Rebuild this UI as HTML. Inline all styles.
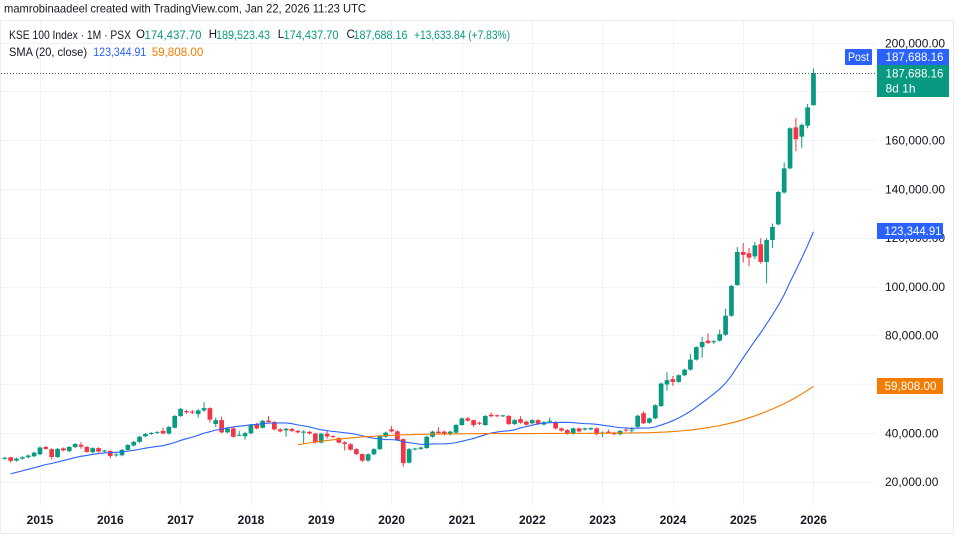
<!DOCTYPE html>
<html><head><meta charset="utf-8">
<style>
html,body{margin:0;padding:0;background:#fff;}
body{width:958px;height:546px;overflow:hidden;}
svg{display:block;font-family:"Liberation Sans",Arial,sans-serif;}
</style></head>
<body>
<svg width="958" height="546" viewBox="0 0 958 546" xmlns="http://www.w3.org/2000/svg">
<rect width="958" height="546" fill="#ffffff"/>
<rect x="0.5" y="20.5" width="953" height="513" fill="none" stroke="#e9ecf2" stroke-width="1"/>
<g stroke="#f0f3fa" stroke-width="1" shape-rendering="crispEdges">
<line x1="1" y1="43.5" x2="876" y2="43.5"/>
<line x1="1" y1="91.5" x2="876" y2="91.5"/>
<line x1="1" y1="140.5" x2="876" y2="140.5"/>
<line x1="1" y1="189.5" x2="876" y2="189.5"/>
<line x1="1" y1="238.5" x2="876" y2="238.5"/>
<line x1="1" y1="287.5" x2="876" y2="287.5"/>
<line x1="1" y1="335.5" x2="876" y2="335.5"/>
<line x1="1" y1="384.5" x2="876" y2="384.5"/>
<line x1="1" y1="433.5" x2="876" y2="433.5"/>
<line x1="1" y1="482.5" x2="876" y2="482.5"/>
<line x1="40.5" y1="21" x2="40.5" y2="505"/>
<line x1="110.5" y1="21" x2="110.5" y2="505"/>
<line x1="180.5" y1="21" x2="180.5" y2="505"/>
<line x1="251.5" y1="21" x2="251.5" y2="505"/>
<line x1="321.5" y1="21" x2="321.5" y2="505"/>
<line x1="391.5" y1="21" x2="391.5" y2="505"/>
<line x1="462.5" y1="21" x2="462.5" y2="505"/>
<line x1="532.5" y1="21" x2="532.5" y2="505"/>
<line x1="602.5" y1="21" x2="602.5" y2="505"/>
<line x1="673.5" y1="21" x2="673.5" y2="505"/>
<line x1="743.5" y1="21" x2="743.5" y2="505"/>
<line x1="813.5" y1="21" x2="813.5" y2="505"/>
</g>

<g transform="translate(4.8,530.9) scale(5.86,-2.44)">
<!-- green wicks -->
<path fill="none" stroke="#089981" stroke-width="1" vector-effect="non-scaling-stroke" d="M0 29.2V30.4M2 28.4V30M3 29.2V30.6M4 29.8V31.3M5 30.2V32.5M6 31V34.6M9 29.9V34M11 32.3V34.8M12 34V36M15 31.9V34.3M17 32.2V33.2M19 30.4V31.9M20 30.6V33.6M21 32.8V35.6M22 34.6V36.9M23 36.1V39M24 38.4V40.1M25 39.3V40.5M26 39.7V40.9M28 39.5V43M29 41.9V47.5M30 46.7V50.4M33 46.4V49.9M34 48.8V52.7M36 42.6V46.5M38 40V42.4M40 38.8V41M41 37.4V40.6M42 39.6V43.8M44 41.9V45.5M48 38.6V42.3M51 35.9V41.3M54 35.8V40.2M62 28.4V31.8M63 31V33.9M64 33.1V39.3M65 38.2V40.7M69 27.6V34M70 33V34.1M71 33.2V34.6M72 33.6V39M73 38.2V41.1M76 39.1V41.1M77 39.9V43.8M78 43V46.5M82 43V47.5M85 46.7V47.6M87 43.4V45.8M90 43.7V45.8M92 43.2V45M93 44.3V46.5M97 39.4V42.4M99 41.1V42.4M100 41.2V42.5M102 38.5V40.8M105 39.2V41.4M107 40.2V42.5M108 42.3V47.6M110 43.9V46.5M111 45.7V51.9M112 50.8V60.8M113 57.5V65M115 60.7V64.2M116 63.4V66.5M117 65.7V72.5M118 69.8V75.7M119 71V79.5M121 76.6V78.2M122 77.6V82.5M123 80V91M124 87.8V100.8M125 100.4V116.3M128 111.5V118.5M130 101.5V120M131 116V126M132 125.2V139.3M133 138.3V151M134 148.2V165.4M136 157V167M137 165V175M138 174.437V189.523"/>
<!-- red wicks -->
<path fill="none" stroke="#f23645" stroke-width="1" vector-effect="non-scaling-stroke" d="M1 28V30.4M7 33.2V34.8M8 29.3V33.8M10 32.6V34.2M13 33.6V36.4M14 32V34.8M16 32.1V34.3M18 29.8V33M27 39.6V42.3M31 47.9V49.6M32 47.8V49.6M35 44.4V50.6M37 40V46.8M39 38.2V42.4M43 41.6V44.3M45 44.2V47M46 41.2V45M47 40.4V42.1M49 40.6V42.2M50 40V41.4M52 39.5V41M53 35.8V40.2M55 37.8V41M56 38V39.2M57 35.8V38.4M58 33V36.8M59 32.9V35.9M60 31.1V33.9M61 28.2V31.7M66 40.4V43M67 36.9V41.2M68 26.4V37.9M74 39.7V42.5M75 39.1V41.1M79 44.8V46.7M80 42.6V45.6M81 43.4V44.8M83 46.6V48.5M84 46.6V47.7M86 43.4V47.5M88 43.9V47M89 43.1V45.2M91 43.5V45.8M94 41.6V45M95 40.7V42.4M96 39.4V41.7M98 40.4V42.4M101 39.2V42.4M103 40V41.5M104 39.2V40.7M106 40.6V42.3M109 43.8V49M114 59.5V63.5M120 76.6V81M126 110V118M127 108.5V116M129 109.5V120M135 155.6V169.3"/>
<!-- green bodies -->
<path fill="#089981" d="M-.4 29.5h.8V30h-.8zM1.6 28.8h.8V29.6h-.8zM2.6 29.6h.8V30.2h-.8zM3.6 30.2h.8V30.9h-.8zM4.6 30.6h.8V32.1h-.8zM5.6 31.4h.8V34.2h-.8zM8.6 30.3h.8V33.6h-.8zM10.6 32.7h.8V34.4h-.8zM11.6 34.4h.8V35.6h-.8zM14.6 32.3h.8V33.9h-.8zM16.6 32.55h.8V32.96h-.8zM18.6 30.95h.8V31.36h-.8zM19.6 31h.8V33.2h-.8zM20.6 33.2h.8V35.2h-.8zM21.6 35h.8V36.5h-.8zM22.6 36.5h.8V38.6h-.8zM23.6 38.8h.8V39.7h-.8zM24.6 39.7h.8V40.1h-.8zM25.6 40.1h.8V40.5h-.8zM27.6 39.9h.8V42.6h-.8zM28.6 42.3h.8V47.1h-.8zM29.6 47.1h.8V50h-.8zM32.6 47.9h.8V49.4h-.8zM33.6 49.4h.8V50.3h-.8zM35.6 43.8h.8V45.4h-.8zM37.6 40.4h.8V42h-.8zM39.6 39h.8V39.4h-.8zM40.6 38.8h.8V40h-.8zM41.6 40h.8V43.4h-.8zM43.6 42.3h.8V45.1h-.8zM47.6 41.2h.8V41.8h-.8zM50.6 40.3h.8V40.7h-.8zM53.6 36.2h.8V39.8h-.8zM61.6 28.8h.8V31.4h-.8zM62.6 31.4h.8V33.5h-.8zM63.6 33.5h.8V38.9h-.8zM64.6 38.6h.8V40.3h-.8zM68.6 28h.8V33.5h-.8zM69.6 33.35h.8V33.76h-.8zM70.6 33.6h.8V34.2h-.8zM71.6 34h.8V38.6h-.8zM72.6 38.6h.8V40.7h-.8zM75.6 39.5h.8V40.7h-.8zM76.6 40.3h.8V43.4h-.8zM77.6 43.4h.8V46.1h-.8zM81.6 43.4h.8V47.1h-.8zM84.6 46.95h.8V47.36h-.8zM86.6 43.8h.8V45.4h-.8zM89.6 44.1h.8V45.4h-.8zM91.6 43.6h.8V44.6h-.8zM92.6 44.75h.8V45.16h-.8zM96.6 39.8h.8V42h-.8zM98.6 41.5h.8V42h-.8zM99.6 41.6h.8V42.1h-.8zM101.6 39.9h.8V40.31h-.8zM104.6 39.6h.8V41h-.8zM106.6 41.1h.8V41.51h-.8zM107.6 42.7h.8V47.2h-.8zM109.6 44.3h.8V46.1h-.8zM110.6 46.1h.8V51.5h-.8zM111.6 51.2h.8V60.4h-.8zM112.6 60h.8V61.8h-.8zM114.6 61.1h.8V63.8h-.8zM115.6 63.8h.8V66.1h-.8zM116.6 66.1h.8V70.2h-.8zM117.6 70.2h.8V75.3h-.8zM118.6 75.3h.8V77.4h-.8zM120.6 77.3h.8V77.71h-.8zM121.6 78h.8V80.6h-.8zM122.6 80.4h.8V88.2h-.8zM123.6 88.2h.8V100.4h-.8zM124.6 100.8h.8V114.3h-.8zM127.6 112.5h.8V117h-.8zM129.6 110.2h.8V119.2h-.8zM130.6 119.2h.8V124.6h-.8zM131.6 125.6h.8V138.9h-.8zM132.6 138.7h.8V148.6h-.8zM133.6 148.6h.8V165h-.8zM135.6 161.6h.8V166.4h-.8zM136.6 166.1h.8V173.6h-.8zM137.6 174.437h.8V187.688h-.8z"/>
<!-- red bodies -->
<path fill="#f23645" d="M.6 28.7h.8V30.2h-.8zM6.6 33.6h.8V34.4h-.8zM7.6 30.3h.8V33.5h-.8zM9.6 33h.8V33.8h-.8zM12.6 34.5h.8V35.3h-.8zM13.6 32.4h.8V34.4h-.8zM15.6 32.5h.8V33.9h-.8zM17.6 30.7h.8V32.8h-.8zM26.6 39.9h.8V41h-.8zM30.6 48.6h.8V49.1h-.8zM31.6 48.45h.8V48.86h-.8zM34.6 45.6h.8V50.3h-.8zM36.6 40.4h.8V45.4h-.8zM38.6 38.6h.8V42h-.8zM42.6 42h.8V43.7h-.8zM44.6 44.6h.8V45.2h-.8zM45.6 41.6h.8V44.6h-.8zM46.6 40.8h.8V41.6h-.8zM48.6 41h.8V41.8h-.8zM49.6 40.4h.8V41h-.8zM51.6 39.9h.8V40.6h-.8zM52.6 36.2h.8V39.9h-.8zM54.6 38.7h.8V39.8h-.8zM55.6 38.45h.8V38.86h-.8zM56.6 36.2h.8V38h-.8zM57.6 35.6h.8V36.3h-.8zM58.6 33.3h.8V35.5h-.8zM59.6 31.5h.8V33.5h-.8zM60.6 28.8h.8V31.5h-.8zM65.6 40.8h.8V41.6h-.8zM66.6 37.3h.8V40.8h-.8zM67.6 27.8h.8V37.6h-.8zM73.6 40.1h.8V40.7h-.8zM74.6 39.5h.8V40.7h-.8zM78.6 45.2h.8V46.1h-.8zM79.6 43.4h.8V45.4h-.8zM80.6 43.9h.8V44.31h-.8zM82.6 47h.8V47.6h-.8zM83.6 47h.8V47.41h-.8zM85.6 43.8h.8V47.1h-.8zM87.6 44.3h.8V45.8h-.8zM88.6 43.5h.8V44.8h-.8zM90.6 43.9h.8V45.4h-.8zM93.6 42h.8V44.6h-.8zM94.6 41.1h.8V42h-.8zM95.6 39.8h.8V41.3h-.8zM97.6 40.8h.8V42h-.8zM100.6 39.6h.8V42h-.8zM102.6 40.2h.8V40.61h-.8zM103.6 39.6h.8V40.3h-.8zM105.6 41.1h.8V41.51h-.8zM108.6 44.1h.8V48.2h-.8zM113.6 61.1h.8V62.2h-.8zM119.6 77h.8V78h-.8zM125.6 113.1h.8V114.3h-.8zM126.6 112h.8V113.8h-.8zM128.6 110.2h.8V117.5h-.8zM134.6 160.5h.8V165.4h-.8z"/>
<!-- SMA 20 -->
<polyline fill="none" stroke="#2962ff" stroke-width="1.1" vector-effect="non-scaling-stroke" points="1,23.38 2,24 3,24.6 4,25.245 5,25.855 6,26.515 7,27.205 8,27.62 9,28.23 10,28.84 11,29.435 12,30.06 13,30.58 14,30.92 15,31.375 16,31.7 17,31.965 18,32.075 19,32.215 20,32.375 21,32.7 22,33.045 23,33.465 24,33.905 25,34.305 26,34.62 27,34.935 28,35.55 29,36.225 30,37.075 31,37.785 32,38.43 33,39.175 34,40.07 35,40.655 36,41.3 37,41.68 38,42.245 39,42.61 40,42.92 41,43.16 42,43.505 43,43.675 44,43.945 45,44.17 46,44.225 47,44.27 48,44.23 49,43.925 50,43.445 51,43.05 52,42.62 53,41.96 54,41.435 55,41.09 56,40.745 57,40.535 58,40.215 59,39.95 60,39.555 61,38.995 62,38.395 63,37.97 64,37.66 65,37.445 66,37.405 67,37.23 68,36.53 69,36.155 70,35.82 71,35.495 72,35.43 73,35.655 74,35.67 75,35.71 76,35.82 77,36.18 78,36.705 79,37.3 80,37.895 81,38.655 82,39.44 83,40.115 84,40.52 85,40.865 86,41.015 87,41.42 88,42.245 89,42.745 90,43.33 91,43.815 92,44.115 93,44.33 94,44.425 95,44.505 96,44.46 97,44.39 98,44.125 99,43.965 100,43.9 101,43.68 102,43.335 103,43 104,42.63 105,42.32 106,42.19 107,41.99 108,42.135 109,42.165 110,42.2 111,42.58 112,43.37 113,44.21 114,45.165 115,46.3 116,47.615 117,49.025 118,50.75 119,52.52 120,54.265 121,56.165 122,58.185 123,60.58 124,63.62 125,67.285 126,70.88 127,74.41 128,77.9 129,81.205 130,84.86 131,88.515 132,92.44 133,96.78 134,101.975 135,106.81 136,111.825 137,116.995 138,122.61"/>
<!-- smoothing -->
<polyline fill="none" stroke="#f57c00" stroke-width="1.1" vector-effect="non-scaling-stroke" points="50,35.31 51,35.7 52,36.07 53,36.42 54,36.75 55,37.05 56,37.33 57,37.6 58,37.85 59,38.09 60,38.3 61,38.49 62,38.66 63,38.81 64,38.94 65,39.06 66,39.18 67,39.28 68,39.37 69,39.45 70,39.52 71,39.58 72,39.62 73,39.67 74,39.7 75,39.73 76,39.75 77,39.78 78,39.8 79,39.82 80,39.84 81,39.86 82,39.88 83,39.9 84,39.91 85,39.91 86,39.9 87,39.9 88,39.9 89,39.9 90,39.91 91,39.92 92,39.94 93,39.95 94,39.96 95,39.97 96,39.97 97,39.97 98,39.97 99,39.97 100,39.98 101,39.99 102,40.01 103,40.03 104,40.05 105,40.08 106,40.11 107,40.13 108,40.17 109,40.22 110,40.27 111,40.34 112,40.44 113,40.57 114,40.72 115,40.89 116,41.1 117,41.33 118,41.62 119,41.94 120,42.31 121,42.73 122,43.18 123,43.68 124,44.24 125,44.87 126,45.57 127,46.34 128,47.16 129,48.04 130,48.98 131,49.98 132,51.04 133,52.17 134,53.4 135,54.72 136,56.13 137,57.64 138,59.25"/>
</g>

<line x1="1" y1="73.5" x2="877" y2="73.5" stroke="#3f5f59" stroke-width="1" stroke-dasharray="1 2"/>

<!-- header -->
<text x="4" y="8.5" font-size="12" fill="#131722" dominant-baseline="central" textLength="362" lengthAdjust="spacingAndGlyphs">mamrobinaadeel created with TradingView.com, Jan 22, 2026 11:23 UTC</text>

<g font-size="12" dominant-baseline="central">
<text x="9" y="35" fill="#131722" textLength="122" lengthAdjust="spacingAndGlyphs">KSE 100 Index · 1M · PSX</text>
<text x="136" y="35" fill="#131722" font-size="11.5">O</text>
<text x="144.5" y="35" fill="#089981" textLength="57" lengthAdjust="spacingAndGlyphs">174,437.70</text>
<text x="208.7" y="35" fill="#131722" font-size="11.5">H</text>
<text x="216" y="35" fill="#089981" textLength="54" lengthAdjust="spacingAndGlyphs">189,523.43</text>
<text x="277.7" y="35" fill="#131722" font-size="11.5">L</text>
<text x="283.5" y="35" fill="#089981" textLength="55" lengthAdjust="spacingAndGlyphs">174,437.70</text>
<text x="346.5" y="35" fill="#131722" font-size="11.5">C</text>
<text x="353.5" y="35" fill="#089981" textLength="54" lengthAdjust="spacingAndGlyphs">187,688.16</text>
<text x="414" y="35" fill="#089981" textLength="96" lengthAdjust="spacingAndGlyphs">+13,633.84 (+7.83%)</text>
<text x="9" y="52" fill="#131722" textLength="78" lengthAdjust="spacingAndGlyphs">SMA (20, close)</text>
<text x="93.3" y="52" fill="#2962ff" textLength="53" lengthAdjust="spacingAndGlyphs">123,344.91</text>
<text x="151.7" y="52" fill="#f57c00" textLength="51.6" lengthAdjust="spacingAndGlyphs">59,808.00</text>
</g>

<g font-size="12" fill="#131722" dominant-baseline="central">
<text x="885" y="43.3">200,000.00</text>
<text x="885" y="140.5">160,000.00</text>
<text x="885" y="189.3">140,000.00</text>
<text x="885" y="238.1">120,000.00</text>
<text x="885" y="286.9">100,000.00</text>
<text x="885" y="335.7">80,000.00</text>
<text x="885" y="433.3">40,000.00</text>
<text x="885" y="482.1">20,000.00</text>
</g>

<g font-size="12" font-weight="bold" fill="#131722" text-anchor="middle" dominant-baseline="central">
<text x="40" y="520">2015</text>
<text x="110.3" y="520">2016</text>
<text x="180.6" y="520">2017</text>
<text x="251" y="520">2018</text>
<text x="321.3" y="520">2019</text>
<text x="391.6" y="520">2020</text>
<text x="462" y="520">2021</text>
<text x="532.3" y="520">2022</text>
<text x="602.6" y="520">2023</text>
<text x="673" y="520">2024</text>
<text x="743.3" y="520">2025</text>
<text x="813.6" y="520">2026</text>
</g>

<rect x="845" y="49" width="27" height="16" fill="#2962ff" rx="1"/>
<text x="858.5" y="57" font-size="12" fill="#ffffff" text-anchor="middle" dominant-baseline="central" textLength="21" lengthAdjust="spacingAndGlyphs">Post</text>
<rect x="877" y="49" width="72" height="16" fill="#2962ff"/>
<text x="885.5" y="57" font-size="12" fill="#ffffff" dominant-baseline="central" textLength="58" lengthAdjust="spacingAndGlyphs">187,688.16</text>
<rect x="877" y="65" width="72" height="32" fill="#089981"/>
<text x="885.5" y="73.5" font-size="12" fill="#ffffff" dominant-baseline="central" textLength="58" lengthAdjust="spacingAndGlyphs">187,688.16</text>
<text x="885.5" y="88.5" font-size="12" fill="#ffffff" dominant-baseline="central">8d 1h</text>

<rect x="877" y="223" width="66" height="16" fill="#2962ff"/>
<text x="884.5" y="231" font-size="12" fill="#ffffff" dominant-baseline="central" textLength="57" lengthAdjust="spacingAndGlyphs">123,344.91</text>
<rect x="877" y="378" width="66" height="16" fill="#f57c00"/>
<text x="884.5" y="386" font-size="12" fill="#ffffff" dominant-baseline="central" textLength="52" lengthAdjust="spacingAndGlyphs">59,808.00</text>
</svg>
</body></html>
